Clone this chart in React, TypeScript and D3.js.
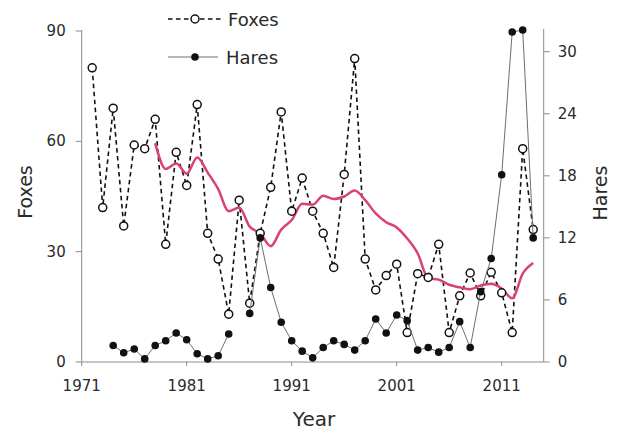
import * as d3 from 'd3'

const years = d3.range(1972, 2015)
const foxes = [80, 42, 69, 37, 59, 58, 66, 32, 57, 48, 70, 35, 28, 13, 44, 16, 35, 47.5, 68, 41, 50, 41, 35, 25.7, 51, 82.5, 28, 19.6, 23.5, 26.6, 8, 24, 23, 32, 8, 18, 24.2, 18, 24.4, 18.8, 8, 58, 36]

const hareYears = d3.range(1974, 2015)
const hares: (number | null)[] = [1.6, 0.9, 1.25, 0.3, 1.6, 2.05, 2.8, 2.15, 0.8, 0.3, 0.6, 2.7, null, 4.7, 12, 7.2, 3.85, 2.05, 1.05, 0.4, 1.4, 2.05, 1.7, 1.15, 2.05, 4.15, 2.8, 4.55, 4, 1.15, 1.4, 0.95, 1.4, 3.9, 1.4, 6.8, 10, 18.1, 31.9, 32.1, 12]

const trendYears = d3.range(1978, 2015)
const trend = [59.5, 52.5, 54, 51.2, 55.6, 51.5, 47, 41, 42, 36.8, 35, 31.5, 36, 38.6, 43, 42.8, 45.2, 44.3, 45, 46.6, 44, 40.4, 38, 36.6, 33.6, 29.5, 22.8, 22.4, 21, 20.3, 19.8, 20.8, 21.3, 20, 17.3, 24, 26.9]

const yearTicks = [1971, 1981, 1991, 2001, 2011]
const foxTicks = [0, 30, 60, 90]
const hareTicks = [0, 6, 12, 18, 24, 30]

const W = 619
const H = 430
const FONT = 'DejaVu Sans, Verdana, sans-serif'
const AXIS = '#8c8c8c'
const TXT = '#2a2a2a'
const PINK = '#d8436f'

export default function App() {
  const x = d3.scaleLinear().domain([1971, 2015]).range([81.7, 543.7])
  const yL = d3.scaleLinear().domain([0, 90]).range([362, 31])
  const yR = d3.scaleLinear().domain([0, 32]).range([362, 31])

  const foxPts = years.map((yr, i) => [x(yr), yL(foxes[i])] as [number, number])
  const harePts = hareYears.map((yr, i) => ({ yr, v: hares[i] }))
  const trendPts = trendYears.map((yr, i) => [x(yr), yL(trend[i])] as [number, number])

  const line = d3.line()
  const hareLine = d3.line<{ yr: number; v: number | null }>()
    .defined(d => d.v != null)
    .x(d => x(d.yr))
    .y(d => yR(d.v as number))

  const x0 = x.range()[0]
  const x1 = x.range()[1]
  const yb = yL(0)

  return (
    <svg width={W} height={H} style={{ position: 'absolute', left: 0, top: 0, background: '#fff' }} fontFamily={FONT}>
      {/* axes */}
      <line x1={x0} x2={x0} y1={30} y2={yb} stroke={AXIS} />
      <line x1={x1} x2={x1} y1={29} y2={yb} stroke={AXIS} />
      <line x1={x0} x2={x1} y1={yb} y2={yb} stroke={AXIS} />

      {foxTicks.map(t => (
        <g key={'l' + t}>
          <line x1={x0 - 6} x2={x0} y1={yL(t)} y2={yL(t)} stroke={AXIS} />
          <text x={x0 - 16} y={yL(t)} textAnchor="end" dominantBaseline="central" fontSize={15} fill={TXT}>{t}</text>
        </g>
      ))}
      {hareTicks.map(t => (
        <g key={'r' + t}>
          <line x1={x1} x2={x1 + 6} y1={yR(t)} y2={yR(t)} stroke={AXIS} />
          <text x={x1 + 14} y={yR(t)} dominantBaseline="central" fontSize={15} fill={TXT}>{t}</text>
        </g>
      ))}
      {yearTicks.map(t => (
        <g key={'b' + t}>
          <line x1={x(t)} x2={x(t)} y1={yb} y2={yb + 4} stroke={AXIS} />
          <text x={x(t)} y={391} textAnchor="middle" fontSize={15} fill={TXT}>{t}</text>
        </g>
      ))}

      {/* axis titles */}
      <text transform="translate(25,192) rotate(-90)" textAnchor="middle" dominantBaseline="central" fontSize={19} fill={TXT}>Foxes</text>
      <text transform="translate(600,193) rotate(-90)" textAnchor="middle" dominantBaseline="central" fontSize={19} fill={TXT}>Hares</text>
      <text x={314} y={426} textAnchor="middle" fontSize={20} fill={TXT}>Year</text>

      {/* foxes line */}
      <path d={line(foxPts) || ''} fill="none" stroke="#111" strokeWidth={1.6} strokeDasharray="4.5,3.5" />

      {/* trend */}
      <path d={line.curve(d3.curveMonotoneX)(trendPts) || ''} fill="none" stroke={PINK} strokeWidth={2.5} strokeLinejoin="round" />

      {foxPts.map((p, i) => (
        <circle key={'f' + i} cx={p[0]} cy={p[1]} r={4} fill="#fff" stroke="#111" strokeWidth={1.5} />
      ))}

      {/* hares */}
      <path d={hareLine(harePts) || ''} fill="none" stroke="#6e6e6e" strokeWidth={1} />
      {harePts.filter(d => d.v != null).map(d => (
        <circle key={'h' + d.yr} cx={x(d.yr)} cy={yR(d.v as number)} r={3.8} fill="#111" />
      ))}

      {/* legend */}
      <line x1={168} x2={222} y1={19} y2={19} stroke="#111" strokeWidth={1.4} strokeDasharray="4.5,3.5" />
      <circle cx={195} cy={19} r={4} fill="#fff" stroke="#111" strokeWidth={1.5} />
      <text x={228} y={19} dominantBaseline="central" fontSize={18} fill={TXT}>Foxes</text>
      <line x1={168} x2={218} y1={57} y2={57} stroke="#6e6e6e" strokeWidth={1} />
      <circle cx={195} cy={57} r={3.8} fill="#111" />
      <text x={226} y={57} dominantBaseline="central" fontSize={18} fill={TXT}>Hares</text>
    </svg>
  )
}
